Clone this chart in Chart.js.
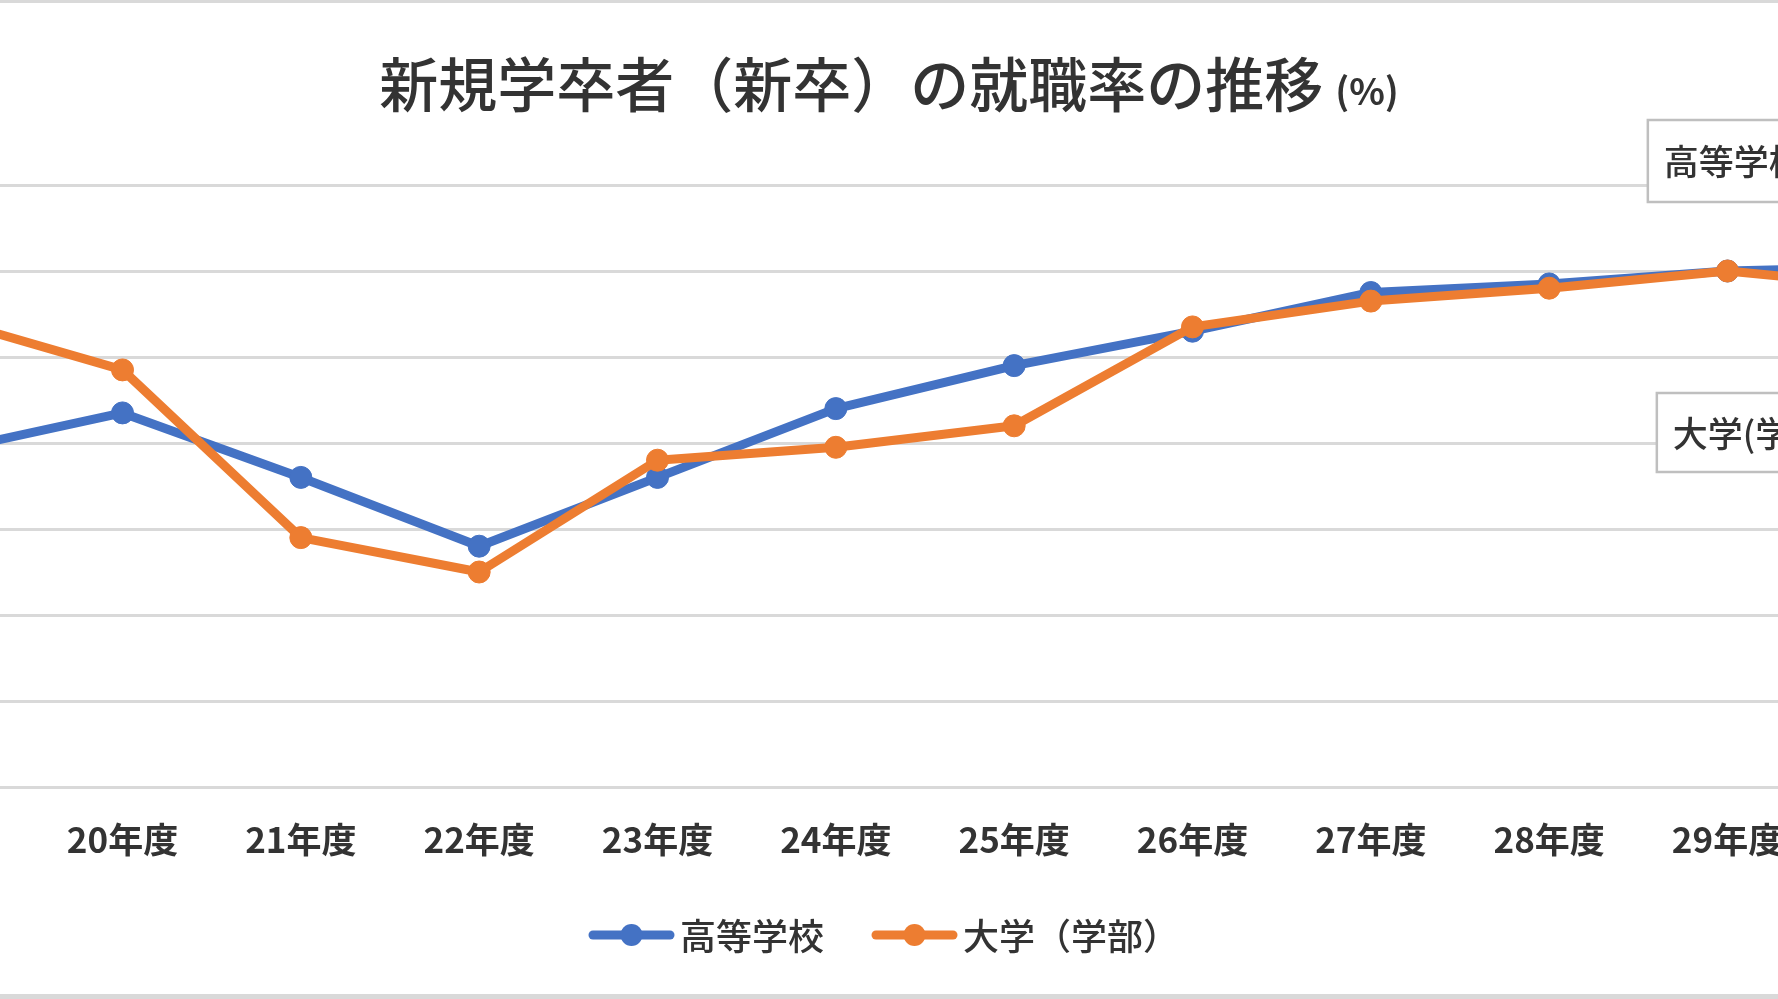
<!DOCTYPE html>
<html>
<head>
<meta charset="utf-8">
<script src="https://cdn.jsdelivr.net/npm/chart.js@4.4.1/dist/chart.umd.min.js"></script>
<style>
  html, body { margin: 0; padding: 0; background: #ffffff; overflow: hidden; width: 1778px; height: 999px; }
  #wrap { position: absolute; left: -300px; top: 0; width: 2378px; height: 999px; }
</style>
</head>
<body>
<div id="wrap"><canvas id="c" width="2378" height="999"></canvas></div>
<script>
// ---- data ----
const categories = ['19年度','20年度','21年度','22年度','23年度','24年度','25年度','26年度','27年度','28年度','29年度','30年度'];
const highSchool = [93.8, 94.7, 93.2, 91.6, 93.2, 94.8, 95.8, 96.6, 97.5, 97.7, 98.0, 98.1];
const university = [96.9, 95.7, 91.8, 91.0, 93.6, 93.9, 94.4, 96.7, 97.3, 97.6, 98.0, 97.6];
const seriesNames = ['高等学校', '大学（学部）'];
const calloutTexts = ['高等学校', '大学(学部)'];
const yMin = 86, yMax = 100, yStep = 2;
const titleMain = '新規学卒者（新卒）の就職率の推移';
const titleUnit = '(%)';

const BLUE = '#4472C4';
const ORANGE = '#ED7D31';
const GRID = '#d9d9d9';
const TEXT = '#333333';
const FONT = '"Noto Sans CJK JP", "Noto Sans", sans-serif';
const VIEW_OFFSET = 300; // canvas shifted left by this

const framePlugin = {
  id: 'frame',
  beforeDraw(chart) {
    const ctx = chart.ctx;
    ctx.save();
    ctx.fillStyle = '#ffffff';
    ctx.fillRect(0, 0, chart.width, chart.height);
    ctx.fillStyle = GRID;
    ctx.fillRect(0, 0, chart.width, 3);
    ctx.fillRect(0, chart.height - 5, chart.width, 5);
    ctx.restore();
  }
};

const titlePlugin = {
  id: 'customTitle',
  afterDraw(chart) {
    const ctx = chart.ctx;
    const cx = 889 + VIEW_OFFSET;
    ctx.save();
    ctx.fillStyle = TEXT;
    ctx.textBaseline = 'middle';
    ctx.textAlign = 'left';
    ctx.font = '500 59px ' + FONT;
    const w1 = ctx.measureText(titleMain).width;
    ctx.font = '700 37px ' + FONT;
    const w2 = ctx.measureText(titleUnit).width;
    const gap = 12;
    const x0 = cx - (w1 + gap + w2) / 2;
    ctx.font = '500 59px ' + FONT;
    ctx.fillText(titleMain, x0, 85);
    ctx.font = '700 37px ' + FONT;
    ctx.fillText(titleUnit, x0 + w1 + gap, 91);
    ctx.restore();
  }
};

const legendPlugin = {
  id: 'customLegend',
  afterDraw(chart) {
    const ctx = chart.ctx;
    const cx = 884 + VIEW_OFFSET;
    const y = 935;
    const lineW = 85, gapText = 6, gapItem = 48;
    ctx.save();
    ctx.font = '500 36px ' + FONT;
    ctx.textBaseline = 'middle';
    ctx.textAlign = 'left';
    const items = chart.data.datasets.slice().sort((a, b) => a.legendIndex - b.legendIndex);
    let total = 0;
    items.forEach((ds, i) => {
      total += lineW + gapText + ctx.measureText(ds.label).width;
      if (i < items.length - 1) total += gapItem;
    });
    let x = cx - total / 2;
    items.forEach((ds) => {
      ctx.strokeStyle = ds.borderColor;
      ctx.lineWidth = 9;
      ctx.lineCap = 'round';
      ctx.beginPath();
      ctx.moveTo(x + 4, y);
      ctx.lineTo(x + lineW - 4, y);
      ctx.stroke();
      ctx.fillStyle = ds.borderColor;
      ctx.beginPath();
      ctx.arc(x + lineW / 2, y, 11, 0, Math.PI * 2);
      ctx.fill();
      ctx.fillStyle = TEXT;
      ctx.fillText(ds.label, x + lineW + gapText, y + 1);
      x += lineW + gapText + ctx.measureText(ds.label).width + gapItem;
    });
    ctx.restore();
  }
};

const calloutPlugin = {
  id: 'callouts',
  afterDraw(chart) {
    const ctx = chart.ctx;
    const xs = chart.scales.x;
    const lastX = xs.getPixelForValue(categories.length - 1);
    const boxes = [
      { text: calloutTexts[0], left: lastX - 258, top: 120, bottom: 202 },
      { text: calloutTexts[1], left: lastX - 249, top: 393, bottom: 472 }
    ];
    ctx.save();
    ctx.font = '500 35px ' + FONT;
    ctx.textBaseline = 'middle';
    boxes.forEach(b => {
      const w = 300;
      ctx.fillStyle = '#ffffff';
      ctx.fillRect(b.left, b.top, w, b.bottom - b.top);
      ctx.strokeStyle = '#bfbfbf';
      ctx.lineWidth = 2.5;
      ctx.strokeRect(b.left, b.top, w, b.bottom - b.top);
      ctx.fillStyle = TEXT;
      ctx.fillText(b.text, b.left + 16, (b.top + b.bottom) / 2 + 1);
    });
    ctx.restore();
  }
};

new Chart(document.getElementById('c'), {
  type: 'line',
  data: {
    labels: categories,
    datasets: [
      {
        label: seriesNames[0], legendIndex: 0, order: 1,
        data: highSchool,
        borderColor: BLUE, backgroundColor: BLUE,
        pointBackgroundColor: BLUE, pointBorderColor: BLUE,
        borderWidth: 9, pointRadius: 11, pointBorderWidth: 1,
        borderJoinStyle: 'round', borderCapStyle: 'round',
        tension: 0, fill: false
      },
      {
        label: seriesNames[1], legendIndex: 1, order: 0,
        data: university,
        borderColor: ORANGE, backgroundColor: ORANGE,
        pointBackgroundColor: ORANGE, pointBorderColor: ORANGE,
        borderWidth: 9, pointRadius: 11, pointBorderWidth: 1,
        borderJoinStyle: 'round', borderCapStyle: 'round',
        tension: 0, fill: false
      }
    ]
  },
  options: {
    responsive: false,
    animation: false,
    devicePixelRatio: 1,
    layout: { padding: { left: 155, right: 83, top: 185, bottom: 112 } },
    plugins: {
      legend: { display: false },
      title: { display: false },
      tooltip: { enabled: false }
    },
    scales: {
      x: {
        offset: true,
        grid: { display: false, drawTicks: false },
        border: { display: true, color: GRID, width: 3 },
        ticks: {
          color: TEXT,
          font: { family: FONT, size: 35, weight: '700' },
          padding: 32,
          maxRotation: 0, autoSkip: false
        },
        afterFit(s) { s.height = 100; }
      },
      y: {
        min: yMin, max: yMax,
        grid: { color: GRID, lineWidth: 3, drawTicks: false },
        border: { display: false },
        ticks: { display: false, stepSize: yStep },
        afterFit(s) { s.width = 0; }
      }
    }
  },
  plugins: [framePlugin, titlePlugin, legendPlugin, calloutPlugin]
});
</script>
</body>
</html>
